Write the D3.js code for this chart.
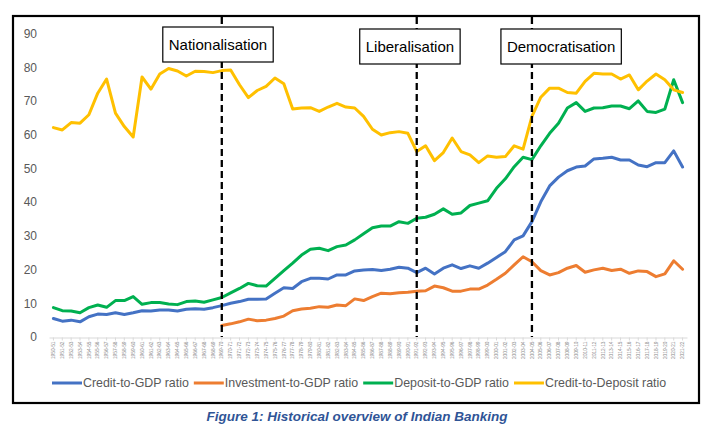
<!DOCTYPE html>
<html>
<head>
<meta charset="utf-8">
<script src="https://cdn.jsdelivr.net/npm/d3@7"></script>
<style>
  body { margin: 0; background: #fff; }
  svg { display: block; font-family: "Liberation Sans", Arial, sans-serif; }
</style>
</head>
<body>
<svg id="canvas" width="720" height="431"></svg>
<script>
// fiscal years on the category axis
let years = ['1950-51','1951-52','1952-53','1953-54','1954-55','1955-56','1956-57','1957-58','1958-59','1959-60',
  '1960-61','1961-62','1962-63','1963-64','1964-65','1965-66','1966-67','1967-68','1968-69','1969-70',
  '1970-71','1971-72','1972-73','1973-74','1974-75','1975-76','1976-77','1977-78','1978-79','1979-80',
  '1980-81','1981-82','1982-83','1983-84','1984-85','1985-86','1986-87','1987-88','1988-89','1989-90',
  '1990-91','1991-92','1992-93','1993-94','1994-95','1995-96','1996-97','1997-98','1998-99','1999-00',
  '2000-01','2001-02','2002-03','2003-04','2004-05','2005-06','2006-07','2007-08','2008-09','2009-10',
  '2010-11','2011-12','2012-13','2013-14','2014-15','2015-16','2016-17','2017-18','2018-19','2019-20',
  '2020-21','2021-22'];

let creditToGdp = [5.5,4.7,5.0,4.5,6.0,6.8,6.7,7.2,6.7,7.2,
  7.8,7.7,8.0,8.0,7.7,8.2,8.4,8.2,8.7,9.3,
  10.0,10.5,11.2,11.2,11.3,13.0,14.6,14.4,16.4,17.4,
  17.4,17.2,18.4,18.4,19.6,19.9,20.0,19.7,20.1,20.7,
  20.4,19.1,20.4,18.7,20.4,21.4,20.3,21.1,20.4,21.9,
  23.6,25.3,28.8,30.0,34.2,40.1,44.8,47.4,49.3,50.4,
  50.7,52.8,53.0,53.3,52.5,52.5,51.0,50.5,51.7,51.7,55.2,50.4];

let investmentToGdp = [null,null,null,null,null,null,null,null,null,null,
  null,null,null,null,null,null,null,null,null,3.4,
  3.9,4.5,5.3,4.8,5.0,5.5,6.2,7.8,8.3,8.5,
  9.0,8.8,9.5,9.3,11.3,10.8,12.0,13.0,12.8,13.1,
  13.3,13.6,13.7,15.1,14.6,13.6,13.6,14.2,14.2,15.4,
  17.1,18.9,21.4,23.8,22.3,19.7,18.4,19.1,20.4,21.2,
  19.2,19.9,20.4,19.7,20.1,18.9,19.6,19.4,17.9,18.7,22.6,20.1];

let depositToGdp = [8.7,7.8,7.7,7.2,8.7,9.5,8.8,10.8,10.8,12.0,
  9.7,10.2,10.2,9.8,9.6,10.5,10.7,10.3,11.0,11.7,
  13.1,14.4,15.9,15.2,15.1,17.4,19.7,21.9,24.3,26.0,
  26.3,25.6,26.8,27.3,28.8,30.6,32.4,32.9,32.9,34.2,
  33.7,35.2,35.5,36.4,38.0,36.4,36.8,39.0,39.7,40.4,
  44.1,46.9,50.5,53.3,52.6,56.7,60.4,63.4,67.9,69.5,
  66.9,67.9,68.0,68.5,68.5,67.7,70.0,66.9,66.6,67.6,76.3,69.5];

let creditToDeposit = [62.1,61.4,63.6,63.4,65.9,72.3,76.5,66.4,62.4,59.3,
  77.1,73.5,78.0,79.6,78.9,77.4,78.8,78.7,78.4,79.0,
  79.2,74.8,71.0,73.1,74.3,76.8,75.1,67.6,67.9,68.0,
  66.9,68.2,69.3,68.2,67.9,65.4,61.6,59.9,60.6,60.9,
  60.4,55.0,56.7,52.3,54.7,59.0,55.0,54.0,51.7,53.7,
  53.3,53.5,56.7,55.7,65.4,71.1,73.8,73.8,72.5,72.3,
  75.8,78.2,78.0,78.0,76.5,77.7,73.3,75.9,78.0,76.3,73.3,72.5];

let seriesNames = ['Credit-to-GDP ratio', 'Investment-to-GDP ratio', 'Deposit-to-GDP ratio', 'Credit-to-Deposit ratio'];
let seriesColors = ['#4472C4', '#ED7D31', '#00B050', '#FFC000'];
let seriesValues = [creditToGdp, investmentToGdp, depositToGdp, creditToDeposit];

let eventNames = ['Nationalisation', 'Liberalisation', 'Democratisation'];
let eventYears = ['1969-70', '1991-92', '2004-05'];

let yTicks = [0, 10, 20, 30, 40, 50, 60, 70, 80, 90];

let canvas = d3.select('#canvas');

let xScale = d3.scaleBand().domain(years).range([49, 687]);
let yScale = d3.scaleLinear().domain([0, 90]).range([337, 33.5]);
let xMid = year => xScale(year) + xScale.bandwidth() / 2;

// outer frame
canvas.append('rect').
attr('x', 13).attr('y', 16).
attr('width', 686).attr('height', 387).
attr('fill', 'none').
attr('stroke', 'black').
attr('stroke-width', 2.2);

// y axis labels
let yAxis = canvas.append('g').
attr('transform', 'translate(40, 0)').
call(d3.axisLeft(yScale).tickValues(yTicks).tickSize(0).tickPadding(3));
yAxis.select('.domain').remove();
yAxis.selectAll('text').
attr('fill', '#595959').
style('font-size', '12px').
style('font-family', '"Liberation Sans", Arial, sans-serif');

// x axis with tiny rotated year labels
let xAxis = canvas.append('g').
attr('transform', 'translate(0, 337.5)').
call(d3.axisBottom(xScale).tickSizeInner(3).tickSizeOuter(0).tickPadding(2));
xAxis.select('.domain').attr('stroke', '#d9d9d9');
xAxis.selectAll('line').attr('stroke', '#d9d9d9');
xAxis.selectAll('text').
attr('fill', '#8c8c8c').
style('font-size', '4.8px').
attr('transform', 'rotate(-90)').
attr('text-anchor', 'end').
attr('x', -4).
attr('y', 0).
attr('dy', '0.35em');

// series lines
let line = d3.line().
defined(d => d != null).
x((d, i) => xMid(years[i])).
y(d => yScale(d));

canvas.selectAll('.series').
data(seriesValues).
enter().
append('path').
attr('class', 'series').
attr('d', values => line(values)).
attr('fill', 'none').
attr('stroke', (values, i) => seriesColors[i]).
attr('stroke-width', 3).
attr('stroke-linejoin', 'round').
attr('stroke-linecap', 'round');

// event markers: dashed line plus a labelled box
let boxLeftOffset = [-59, -57, -31];
let boxTop = [27, 29, 29];

eventYears.forEach((year, i) => {
  let xPos = xMid(year);
  canvas.append('line').
  attr('x1', xPos).attr('x2', xPos).
  attr('y1', 17).attr('y2', 337).
  attr('stroke', 'black').
  attr('stroke-width', 2.3).
  attr('stroke-dasharray', '7,4');

  let g = canvas.append('g');
  let rect = g.append('rect');
  let label = g.append('text').
  text(eventNames[i]).
  attr('x', xPos + boxLeftOffset[i] + 6).
  attr('y', boxTop[i] + 23).
  attr('fill', 'black').
  style('font-size', '15px');
  let w = label.node().getComputedTextLength();
  rect.attr('x', xPos + boxLeftOffset[i]).
  attr('y', boxTop[i]).
  attr('width', w + 12).
  attr('height', 35).
  attr('fill', 'white').
  attr('stroke', 'black').
  attr('stroke-width', 1.2);
});

// legend
let legendX = 52;
seriesNames.forEach((name, i) => {
  canvas.append('line').
  attr('x1', legendX).attr('x2', legendX + 30).
  attr('y1', 383).attr('y2', 383).
  attr('stroke', seriesColors[i]).
  attr('stroke-width', 3);
  let t = canvas.append('text').
  text(name).
  attr('x', legendX + 31).
  attr('y', 387).
  attr('fill', '#595959').
  style('font-size', '12.4px');
  legendX += 31 + t.node().getComputedTextLength() + 5;
});

// caption
canvas.append('text').
text('Figure 1: Historical overview of Indian Banking').
attr('x', 357).
attr('y', 420.5).
attr('text-anchor', 'middle').
attr('fill', '#2F5496').
style('font-family', '"Liberation Sans Narrow", "Liberation Sans", Arial, sans-serif').
style('font-size', '13.5px').
style('font-weight', 'bold').
style('font-style', 'italic');
</script>
</body>
</html>
